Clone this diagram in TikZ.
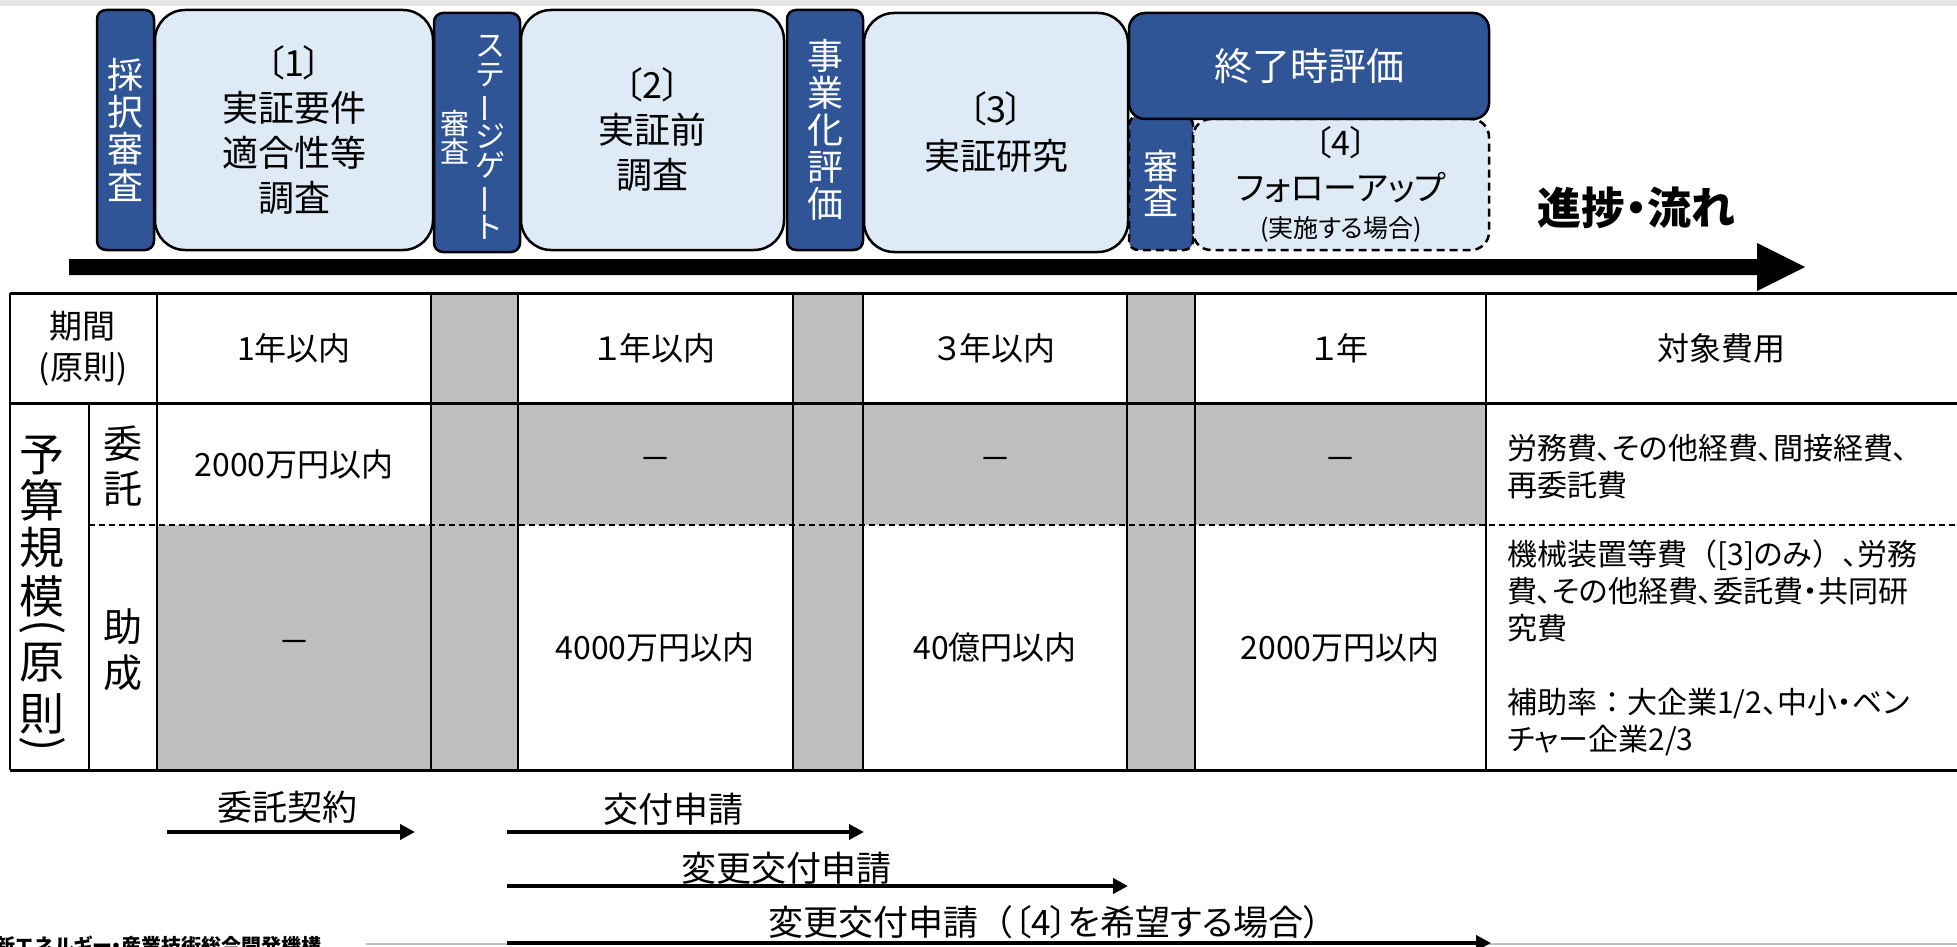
\documentclass[tikz,border=0pt]{standalone}
\usepackage{fontspec}
\usepackage{graphicx}
\setmainfont{Noto Sans CJK JP}[RawFeature=+palt]
\newfontfamily\fullw{Noto Sans CJK JP}
\usetikzlibrary{arrows.meta}
\definecolor{dblue}{HTML}{2F5597}
\definecolor{lblue}{HTML}{DEEBF7}
\definecolor{cgray}{HTML}{BFBFBF}
\definecolor{topgray}{HTML}{E7E6E6}
\newcommand{\vchoon}{\rotatebox[origin=c]{90}{ー}}
\begin{document}
\begin{tikzpicture}[x=1pt,y=-1pt,
  darkbox/.style={draw=black,line width=2.5pt,fill=dblue,rounded corners=9pt,inner sep=0pt,text=white,align=center},
  lightbox/.style={draw=black,line width=2.5pt,fill=lblue,rounded corners=30pt,inner sep=0pt,align=center},
  vtxt/.style={text=white,align=center,inner sep=0pt},
  cell/.style={inner sep=0pt,align=center,font=\fontsize{32}{38}\selectfont},
  hcell/.style={inner sep=0pt,align=center,font=\fontsize{33}{41}\selectfont},
  costtxt/.style={inner sep=0pt,align=left,anchor=west,font=\fontsize{30}{37}\selectfont},
  tline/.style={line width=2.5pt},
  flowarrow/.style={line width=4pt,-{Triangle[length=15pt,width=15pt]}},
  flowlbl/.style={inner sep=0pt,font=\fontsize{35}{40}\selectfont},
  bigv/.style={inner sep=0pt,font=\fontsize{45}{45}\selectfont},
]
\useasboundingbox (0,0) rectangle (1957,947);
\clip (0,0) rectangle (1957,947);
\fill[white] (0,0) rectangle (1957,947);
\fill[topgray] (0,0) rectangle (1957,6);

% ---- top process boxes ----
\node[darkbox,minimum width=57pt,minimum height=240pt,font=\fontsize{36}{37}\selectfont] (saitaku) at (125.5,130) {採\\択\\審\\査};
\node[lightbox,minimum width=278pt,minimum height=240pt,font=\fontsize{36}{45}\selectfont] (b1) at (294,130) {〔1〕\\実証要件\\適合性等\\調査};
\node[darkbox,minimum width=86pt,minimum height=239pt] (sg) at (477,132.5) {};
\node[vtxt,font=\fontsize{30}{29}\selectfont] (sgR) at (490,137.5) {ス\\テ\\\vchoon\\ジ\\ゲ\\\vchoon\\ト};
\node[vtxt,font=\fontsize{29}{28}\selectfont] (sgL) at (455,137.5) {審\\査};
\node[lightbox,minimum width=263pt,minimum height=240pt,font=\fontsize{36}{45}\selectfont] (b2) at (652.5,130) {〔2〕\\実証前\\調査};
\node[darkbox,minimum width=76pt,minimum height=240pt,font=\fontsize{36}{37}\selectfont] (jigyo) at (825,130) {事\\業\\化\\評\\価};
\node[lightbox,minimum width=264pt,minimum height=239pt,font=\fontsize{36}{47}\selectfont] (b3) at (996,132.5) {〔3〕\\実証研究};
\node[darkbox,dash pattern=on 8pt off 5pt,minimum width=64pt,minimum height=134pt,font=\fontsize{35}{35}\selectfont] (shinsa) at (1161,183) {審\\査};
\node[lightbox,rounded corners=18pt,dash pattern=on 8pt off 5pt,minimum width=296pt,minimum height=131pt,font=\fontsize{34}{45}\selectfont] (b4) at (1341,184.5) {〔4〕\\フォローアップ\\[-8pt]{\fontsize{25}{28}\selectfont (実施する場合)}};
\node[darkbox,rounded corners=16pt,minimum width=360pt,minimum height=106pt,font=\fontsize{38}{40}\selectfont] (shuryo) at (1309,66) {終了時評価};

% ---- progress arrow ----
\fill (69,259) -- (1757,259) -- (1757,243) -- (1805,267) -- (1757,291) -- (1757,275) -- (69,275) -- cycle;
\node[inner sep=0pt,font=\bfseries\fontsize{44}{48}\selectfont] (flowtitle) at (1636,208) {進捗・流れ};

% ---- table fills ----
\fill[cgray] (431,293) rectangle (518,770);
\fill[cgray] (793,293) rectangle (863,770);
\fill[cgray] (1127,293) rectangle (1195,770);
\fill[cgray] (518,403) rectangle (793,525);
\fill[cgray] (863,403) rectangle (1127,525);
\fill[cgray] (1195,403) rectangle (1486,525);
\fill[cgray] (157,525) rectangle (431,770);

% ---- table lines ----
\draw[line width=3pt] (10,293) -- (1957,293);
\draw[line width=3pt] (10,403) -- (1957,403);
\draw[line width=3pt] (10,770) -- (1957,770);
\draw[line width=2pt,dash pattern=on 6pt off 4pt] (89,525) -- (1957,525);
\foreach \xx in {10,157,431,518,793,863,1127,1195,1486}
  \draw[tline] (\xx,293) -- (\xx,770);
\draw[tline] (89,403) -- (89,770);

% ---- table texts ----
\node[hcell] (kikan) at (83,349) {期間\\(原則)};
\node[cell] (h1) at (294,348) {1年以内};
\node[cell] (h2) at (655,348) {１年以内};
\node[cell] (h3) at (995,348) {３年以内};
\node[cell] (h4) at (1340,348) {１年};
\node[cell] (h5) at (1721,348) {対象費用};

\foreach \c/\yy [count=\i] in {予/455,算/500,規/548,模/596,原/663,則/714}
  \node[bigv] (yosan\i) at (42,\yy) {\c};
\node[bigv,rotate=-90] (yosanL) at (42,627) {(};
\node[bigv,rotate=-90] (yosanR) at (42,744) {)};

\node[inner sep=0pt,align=center,font=\fontsize{39}{45}\selectfont] (itaku) at (123,466) {委\\託};
\node[inner sep=0pt,align=center,font=\fontsize{39}{46}\selectfont] (josei) at (123,650) {助\\成};

\node[cell] (r1c1) at (294,464) {2000万円以内};
\node[cell] (r1c2) at (655,464) {－};
\node[cell] (r1c3) at (995,464) {－};
\node[cell] (r1c4) at (1340,464) {－};
\node[costtxt] (r1c5) at (1507,467) {労務費、その他経費、間接経費、\\再委託費};

\node[cell] (r2c1) at (294,647) {－};
\node[cell] (r2c2) at (655,647) {4000万円以内};
\node[cell] (r2c3) at (995,647) {40億円以内};
\node[cell] (r2c4) at (1340,647) {2000万円以内};
\node[costtxt] (r2c5) at (1507,648) {機械装置等費{\fullw （}[3]のみ{\fullw ）}、労務\\費、その他経費、委託費・共同研\\究費\\ \\補助率{\fullw ：}大企業1/2、中小・ベン\\チャー企業2/3};

% ---- footer ----
\draw[cgray,line width=2pt] (366,944) -- (1957,944);
\node[anchor=north west,inner sep=0pt,font=\bfseries\fontsize{20}{22}\selectfont] (org) at (-5,936) {新エネルギー・産業技術総合開発機構};

% ---- procedure arrows ----
\coordinate (k1s) at (167,832); \coordinate (k1e) at (415,832);
\coordinate (k2s) at (507,832); \coordinate (k2e) at (864,832);
\coordinate (k3s) at (507,886); \coordinate (k3e) at (1128,886);
\coordinate (k4s) at (507,943); \coordinate (k4e) at (1491,943);
\draw[flowarrow] (k1s) -- (k1e);
\draw[flowarrow] (k2s) -- (k2e);
\draw[flowarrow] (k3s) -- (k3e);
\draw[flowarrow] (k4s) -- (k4e);
\node[flowlbl] (k1l) at (287,807) {委託契約};
\node[flowlbl] (k2l) at (673,809) {交付申請};
\node[flowlbl] (k3l) at (786,868) {変更交付申請};
\node[flowlbl,font=\fontsize{35}{40}\selectfont] (k4l) at (1045,922) {変更交付申請{\fullw （}〔4〕を希望する場合）};
\end{tikzpicture}
\end{document}
